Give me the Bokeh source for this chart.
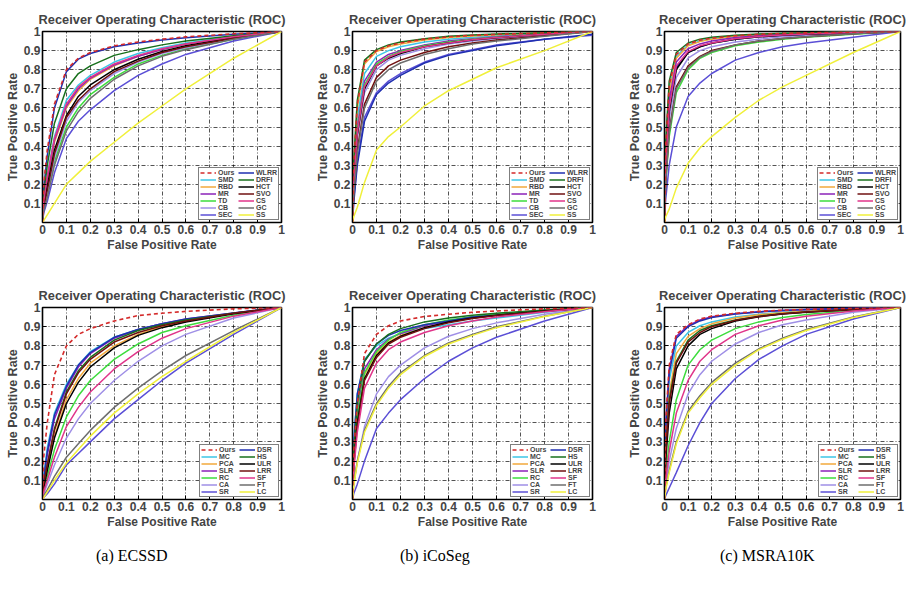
from bokeh.plotting import figure
from bokeh.models import FixedTicker, Legend, LegendItem, Div, Spacer
from bokeh.layouts import row, column
from bokeh.embed import file_html
from bokeh.resources import INLINE

# ---------------- data ----------------
FPR = [0, 0.005, 0.02, 0.05, 0.1, 0.15, 0.2, 0.3, 0.4, 0.5, 0.6, 0.8, 1.0]
TICKS = [0, 0.1, 0.2, 0.3, 0.4, 0.5, 0.6, 0.7, 0.8, 0.9, 1.0]
TITLE = "Receiver Operating Characteristic (ROC)"
X_LABEL = "False Positive Rate"
Y_LABEL = "True Positive Rate"
CAPTIONS = ["(a) ECSSD", "(b) iCoSeg", "(c) MSRA10K"]

TOP_METHODS = ["Ours", "SMD", "RBD", "MR", "TD", "CB", "SEC",
               "WLRR", "DRFI", "HCT", "SVO", "CS", "GC", "SS"]
BOTTOM_METHODS = ["Ours", "MC", "PCA", "SLR", "RC", "CA", "SR",
                  "DSR", "HS", "ULR", "LRR", "SF", "FT", "LC"]

ECSSD_TOP = {
    "Ours": [0, .20, .38, .62, .80, .86, .89, .925, .945, .96, .972, .988, 1],
    "SMD":  [0, .12, .25, .45, .64, .72, .77, .84, .885, .915, .94, .975, 1],
    "RBD":  [0, .10, .22, .42, .60, .69, .75, .82, .87, .905, .935, .97, 1],
    "MR":   [0, .11, .23, .43, .61, .70, .755, .825, .87, .905, .935, .97, 1],
    "TD":   [0, .07, .15, .32, .50, .60, .67, .76, .83, .875, .91, .96, 1],
    "CB":   [0, .07, .16, .34, .53, .63, .69, .78, .84, .885, .915, .965, 1],
    "SEC":  [0, .05, .11, .26, .44, .53, .59, .69, .77, .83, .88, .95, 1],
    "WLRR": [0, .18, .35, .60, .79, .855, .885, .92, .94, .955, .967, .985, 1],
    "DRFI": [0, .14, .30, .52, .70, .78, .82, .875, .905, .93, .95, .978, 1],
    "HCT":  [0, .09, .19, .38, .56, .66, .72, .80, .855, .895, .925, .968, 1],
    "SVO":  [0, .08, .17, .36, .55, .64, .70, .79, .845, .89, .92, .965, 1],
    "CS":   [0, .11, .24, .44, .62, .71, .76, .83, .875, .91, .935, .972, 1],
    "GC":   [0, .06, .13, .30, .48, .58, .65, .75, .82, .87, .905, .96, 1],
    "SS":   [0, .01, .04, .10, .20, .26, .32, .42, .52, .61, .70, .86, 1],
}
ICOSEG_TOP = {
    "Ours": [0, .30, .62, .84, .90, .925, .94, .96, .972, .98, .985, .993, 1],
    "SMD":  [0, .25, .55, .78, .87, .90, .92, .945, .96, .97, .978, .99, 1],
    "RBD":  [0, .28, .60, .83, .895, .92, .935, .955, .968, .977, .983, .992, 1],
    "MR":   [0, .22, .50, .74, .84, .88, .90, .93, .95, .962, .972, .987, 1],
    "TD":   [0, .20, .48, .72, .83, .87, .895, .925, .945, .96, .97, .985, 1],
    "CB":   [0, .18, .44, .68, .80, .85, .875, .91, .935, .95, .963, .982, 1],
    "SEC":  [0, .12, .32, .55, .68, .74, .78, .84, .88, .905, .93, .96, .98],
    "WLRR": [0, .10, .30, .53, .67, .73, .77, .835, .875, .90, .925, .96, .985],
    "DRFI": [0, .32, .64, .85, .905, .93, .945, .962, .975, .982, .987, .994, 1],
    "HCT":  [0, .20, .46, .70, .82, .86, .885, .92, .94, .955, .967, .985, 1],
    "SVO":  [0, .15, .38, .62, .76, .82, .85, .89, .92, .94, .955, .978, 1],
    "CS":   [0, .20, .47, .71, .82, .865, .89, .92, .94, .957, .968, .985, 1],
    "GC":   [0, .14, .36, .60, .74, .80, .835, .88, .91, .935, .95, .975, 1],
    "SS":   [0, .03, .08, .21, .38, .45, .50, .61, .69, .75, .81, .90, 1],
}
MSRA_TOP = {
    "Ours": [0, .40, .72, .88, .935, .955, .965, .978, .985, .99, .993, .997, 1],
    "SMD":  [0, .38, .70, .87, .93, .95, .962, .976, .984, .989, .992, .997, 1],
    "RBD":  [0, .36, .68, .86, .925, .947, .96, .975, .983, .988, .992, .997, 1],
    "MR":   [0, .33, .64, .84, .91, .935, .95, .968, .978, .985, .99, .996, 1],
    "TD":   [0, .20, .45, .68, .80, .86, .89, .925, .945, .96, .97, .986, 1],
    "CB":   [0, .25, .54, .76, .86, .90, .92, .945, .96, .972, .98, .99, 1],
    "SEC":  [0, .12, .30, .50, .66, .73, .78, .85, .89, .92, .94, .97, 1],
    "WLRR": [0, .30, .60, .81, .89, .92, .94, .96, .972, .98, .986, .994, 1],
    "DRFI": [0, .42, .74, .89, .94, .96, .97, .98, .987, .991, .994, .997, 1],
    "HCT":  [0, .28, .58, .80, .89, .92, .938, .96, .972, .98, .986, .994, 1],
    "SVO":  [0, .22, .48, .71, .82, .87, .90, .93, .95, .963, .972, .988, 1],
    "CS":   [0, .30, .60, .82, .895, .925, .94, .962, .974, .982, .987, .995, 1],
    "GC":   [0, .21, .47, .70, .81, .865, .895, .93, .95, .963, .972, .988, 1],
    "SS":   [0, .03, .07, .18, .31, .39, .45, .55, .64, .71, .77, .89, 1],
}
ECSSD_BOTTOM = {
    "Ours": [0, .22, .40, .65, .80, .86, .89, .93, .958, .97, .98, .993, 1],
    "MC":   [0, .12, .27, .45, .60, .70, .77, .845, .885, .915, .935, .97, 1],
    "PCA":  [0, .07, .16, .33, .52, .63, .71, .80, .86, .90, .93, .97, 1],
    "SLR":  [0, .10, .23, .42, .58, .69, .76, .84, .885, .915, .94, .972, 1],
    "RC":   [0, .05, .12, .26, .43, .54, .62, .73, .81, .87, .905, .96, 1],
    "CA":   [0, .03, .08, .18, .32, .42, .50, .62, .72, .80, .86, .945, 1],
    "SR":   [0, .01, .03, .08, .18, .24, .30, .42, .52, .62, .71, .86, 1],
    "DSR":  [0, .11, .25, .44, .59, .70, .765, .845, .885, .915, .94, .972, 1],
    "HS":   [0, .08, .18, .37, .56, .67, .74, .83, .88, .91, .935, .97, 1],
    "ULR":  [0, .06, .15, .32, .50, .61, .69, .79, .855, .895, .925, .968, 1],
    "LRR":  [0, .08, .18, .36, .55, .66, .73, .82, .87, .905, .93, .97, 1],
    "SF":   [0, .04, .10, .22, .38, .48, .56, .68, .77, .84, .89, .955, 1],
    "FT":   [0, .02, .05, .12, .22, .29, .36, .48, .58, .67, .75, .88, 1],
    "LC":   [0, .01, .04, .10, .19, .26, .33, .45, .55, .64, .72, .87, 1],
}
ICOSEG_BOTTOM = {
    "Ours": [0, .25, .50, .76, .86, .905, .93, .953, .965, .975, .982, .993, 1],
    "MC":   [0, .30, .55, .73, .80, .84, .865, .89, .91, .93, .945, .975, 1],
    "PCA":  [0, .20, .42, .65, .76, .82, .855, .895, .925, .945, .96, .982, 1],
    "SLR":  [0, .22, .45, .68, .78, .835, .865, .905, .93, .95, .963, .984, 1],
    "RC":   [0, .20, .43, .66, .77, .83, .87, .91, .935, .952, .965, .985, 1],
    "CA":   [0, .08, .20, .38, .55, .64, .70, .79, .85, .89, .92, .965, 1],
    "SR":   [0, .03, .08, .20, .37, .45, .52, .63, .72, .79, .845, .93, 1],
    "DSR":  [0, .30, .55, .72, .81, .855, .88, .91, .93, .95, .96, .982, 1],
    "HS":   [0, .26, .50, .72, .81, .86, .89, .925, .945, .96, .97, .987, 1],
    "ULR":  [0, .18, .40, .63, .75, .815, .85, .895, .925, .945, .96, .982, 1],
    "LRR":  [0, .17, .38, .62, .74, .81, .845, .89, .92, .943, .958, .98, 1],
    "SF":   [0, .15, .35, .58, .71, .78, .82, .87, .905, .93, .95, .978, 1],
    "FT":   [0, .08, .20, .36, .50, .59, .66, .75, .815, .86, .90, .955, 1],
    "LC":   [0, .07, .19, .35, .49, .58, .65, .745, .81, .855, .895, .953, 1],
}
MSRA_BOTTOM = {
    "Ours": [0, .40, .70, .86, .91, .94, .955, .97, .98, .986, .99, .996, 1],
    "MC":   [0, .35, .62, .80, .87, .905, .925, .95, .965, .975, .982, .993, 1],
    "PCA":  [0, .28, .55, .76, .85, .89, .915, .945, .962, .973, .98, .992, 1],
    "SLR":  [0, .38, .68, .85, .905, .935, .952, .968, .978, .985, .99, .996, 1],
    "RC":   [0, .12, .30, .52, .70, .78, .83, .89, .925, .948, .963, .985, 1],
    "CA":   [0, .08, .20, .37, .55, .65, .72, .81, .87, .91, .935, .975, 1],
    "SR":   [0, .02, .06, .14, .28, .40, .50, .63, .73, .80, .86, .94, 1],
    "DSR":  [0, .37, .66, .84, .90, .93, .948, .966, .977, .984, .989, .996, 1],
    "HS":   [0, .25, .52, .72, .83, .88, .905, .935, .955, .968, .977, .99, 1],
    "ULR":  [0, .20, .45, .68, .80, .86, .89, .93, .952, .966, .975, .99, 1],
    "LRR":  [0, .24, .50, .71, .82, .87, .90, .933, .953, .967, .976, .99, 1],
    "SF":   [0, .10, .25, .45, .62, .72, .78, .86, .905, .935, .955, .982, 1],
    "FT":   [0, .06, .15, .30, .46, .54, .61, .71, .785, .84, .885, .95, 1],
    "LC":   [0, .05, .14, .29, .45, .53, .60, .70, .78, .835, .88, .948, 1],
}

# ---------------- styles ----------------
COLORS = ["#d42a2a", "#3cc6e6", "#f2a93b", "#8b22b8", "#3ddc3d", "#9f8fe6",
          "#5b4fd6", "#1f2fb0", "#17701c", "#000000", "#701010", "#e0358a",
          "#6e6e6e", "#f0f03a"]
FONT = "Liberation Sans"


def make_plot(methods, tpr, width, height, right_border, bottom_border):
    p = figure(width=width, height=height, x_range=(0, 1), y_range=(0, 1),
               output_backend="svg", toolbar_location=None, title=TITLE,
               min_border_left=42, min_border_right=right_border,
               min_border_top=31, min_border_bottom=bottom_border)
    p.background_fill_color = "white"
    p.border_fill_color = "white"
    p.outline_line_color = "black"
    p.outline_line_width = 1.6

    p.title.text_font = FONT
    p.title.text_font_size = "12.8px"
    p.title.text_font_style = "bold"
    p.title.align = "center"
    p.title.standoff = 9

    p.xaxis.ticker = FixedTicker(ticks=TICKS)
    p.yaxis.ticker = FixedTicker(ticks=TICKS[1:])
    p.xaxis.major_label_overrides = {0: "0", 1: "1"}
    p.yaxis.major_label_overrides = {1: "1"}
    p.xaxis.axis_label = X_LABEL
    p.yaxis.axis_label = Y_LABEL
    for ax in (p.xaxis, p.yaxis):
        ax.axis_label_text_font = FONT
        ax.axis_label_text_font_size = "12px"
        ax.axis_label_text_font_style = "bold"
        ax.axis_label_standoff = 1
        ax.major_label_text_font = FONT
        ax.major_label_text_font_size = "12px"
        ax.major_label_text_font_style = "bold"
        ax.major_label_standoff = 2
        ax.major_tick_in = 4
        ax.major_tick_out = 0
        ax.minor_tick_line_color = None
        ax.axis_line_color = "black"
        ax.major_tick_line_color = "black"
    p.yaxis.axis_label_text_font_size = "12.5px"

    p.grid.grid_line_color = "black"
    p.grid.grid_line_dash = "4 2 1 2"
    p.grid.grid_line_width = 0.8
    p.grid.grid_line_alpha = 0.85

    renderers = {}
    order = list(range(1, len(methods))) + [0]
    for i in order:
        m = methods[i]
        if i == 0:
            r = p.line(FPR, tpr[m], line_color=COLORS[i], line_width=1.6,
                       line_dash="4 3")
        else:
            r = p.line(FPR, tpr[m], line_color=COLORS[i], line_width=1.5)
        renderers[m] = r

    items = [LegendItem(label=m, renderers=[renderers[m]]) for m in methods]
    legend = Legend(items=items, location="bottom_right", orientation="vertical",
                    nrows=7, margin=2, padding=1, spacing=0,
                    label_text_font=FONT, label_text_font_size="7px",
                    label_text_font_style="bold", label_height=7,
                    glyph_height=7, glyph_width=16, label_standoff=2,
                    border_line_color="black", border_line_width=1.2,
                    background_fill_color="white", background_fill_alpha=1.0)
    p.add_layout(legend)
    return p


top_row = row(
    make_plot(TOP_METHODS, ECSSD_TOP, 310, 276, 29, 54),
    make_plot(TOP_METHODS, ICOSEG_TOP, 312, 276, 30, 54),
    make_plot(TOP_METHODS, MSRA_TOP, 285, 276, 7, 54),
)
bottom_row = row(
    make_plot(BOTTOM_METHODS, ECSSD_BOTTOM, 310, 266, 29, 43),
    make_plot(BOTTOM_METHODS, ICOSEG_BOTTOM, 312, 266, 30, 43),
    make_plot(BOTTOM_METHODS, MSRA_BOTTOM, 285, 266, 7, 43),
)

cap_style = {"font-family": "Liberation Serif", "font-size": "16px",
             "color": "black", "white-space": "nowrap", "padding-top": "3px"}
caption_row = row(
    Spacer(width=96, height=28),
    Div(text=CAPTIONS[0], width=100, height=28, margin=0, styles=cap_style),
    Spacer(width=204, height=28),
    Div(text=CAPTIONS[1], width=100, height=28, margin=0, styles=cap_style),
    Spacer(width=220, height=28),
    Div(text=CAPTIONS[2], width=120, height=28, margin=0, styles=cap_style),
)

layout = column(top_row, bottom_row, caption_row)
open("out.html", "w").write(file_html(layout, INLINE, title="ROC curves"))
